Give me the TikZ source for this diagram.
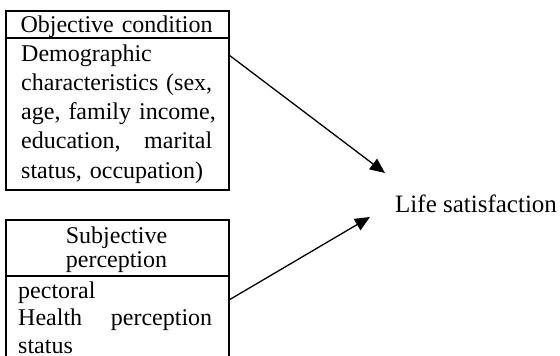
\documentclass[tikz,border=0pt]{standalone}
\usepackage{fontspec}
\setmainfont{Liberation Serif}
\usetikzlibrary{arrows.meta}
\tikzset{
  frame/.style={draw, line width=2pt, rectangle, anchor=north west, inner sep=0pt},
  txt/.style={inner sep=0pt, font=\fontsize{24}{29.3}\selectfont},
  body/.style={txt, text width=#1, align=left, anchor=base west},
  head/.style={txt, text width=223pt, align=center, anchor=base},
  link/.style={line width=1.3pt, -{Triangle[length=15pt,width=13pt]}}
}
\begin{document}
\begin{tikzpicture}[x=1pt,y=-1pt]
\useasboundingbox (0,0) rectangle (560,356);
\clip (0,0) rectangle (560,356);
% top box
\node[frame, minimum width=223pt, minimum height=179pt] (obj) at (5,10) {};
\draw[line width=2pt] (5,38) coordinate (objl) -- (228,38) coordinate (objr);
\node[head] (objh) at (116.5,32) {Objective condition};
\node[body=191pt] (objb) at (21,61) {Demographic\\
characteristics\hfill(sex,\\
\mbox{age, family income,}\\
education,\hfill marital\\
\mbox{status, occupation)}};
% bottom box
\node[frame, minimum width=223pt, minimum height=160pt] (sub) at (5,219) {};
\draw[line width=2pt] (5,276) coordinate (subl) -- (228,276) coordinate (subr);
\node[head, font=\fontsize{24}{24}\selectfont] (subh) at (116.5,243.3) {Subjective\\perception};
\node[body=194pt, font=\fontsize{24}{27.5}\selectfont] (subb) at (18,298) {pectoral\\
Health\hfill perception\\
status};
% target
\node[txt, anchor=base west, font=\fontsize{25}{30}\selectfont] (life) at (395,212) {Life satisfaction};
% connectors
\coordinate (s1) at (229,55);
\coordinate (e1) at (385,173);
\coordinate (s2) at (229,300);
\coordinate (e2) at (370,217);
\draw[link] (s1) -- (e1);
\draw[link] (s2) -- (e2);
\end{tikzpicture}
\end{document}
